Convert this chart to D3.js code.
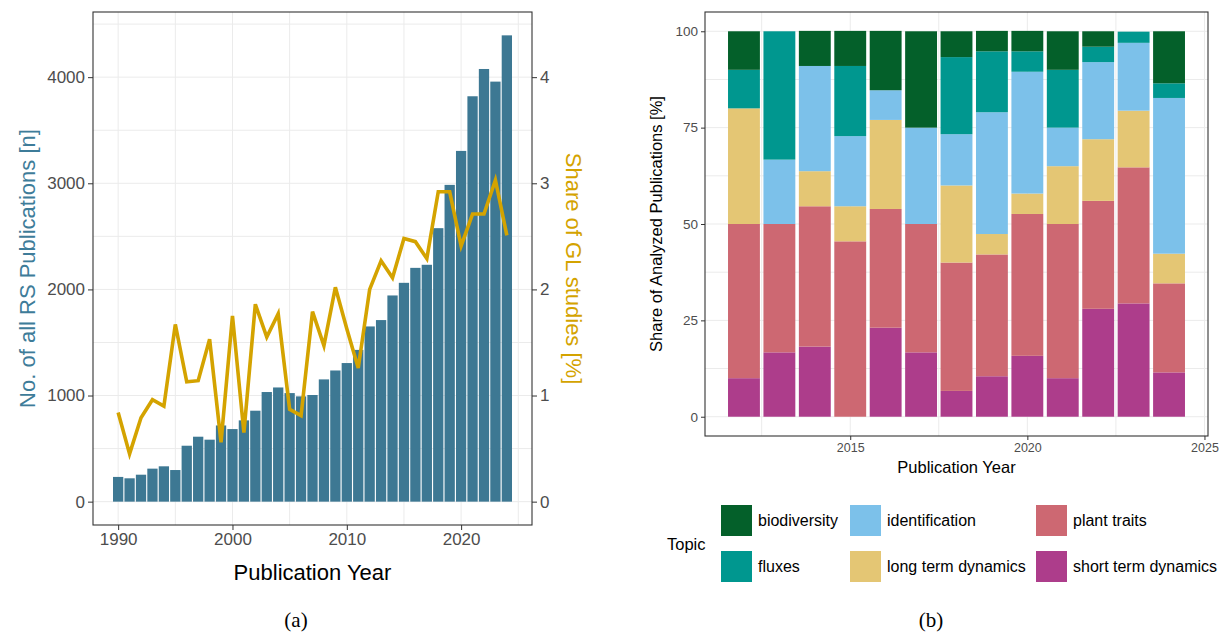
<!DOCTYPE html>
<html>
<head>
<meta charset="utf-8">
<script src="https://cdn.jsdelivr.net/npm/d3@7"></script>
<style>
  body { margin: 0; background: #fff; }
  svg text { font-family: "Liberation Sans", Arial, sans-serif; }
  .grid line { stroke: #ebebeb; stroke-width: 1; }
  .axis line { stroke: #333; }
  .axis path { display: none; }
  .axis text { fill: #4d4d4d; }
</style>
</head>
<body>
<svg id="chart" width="1221" height="632"></svg>
<script>
// panel (a): remote sensing publications and share of GL studies
let years_a = [1990, 1991, 1992, 1993, 1994, 1995, 1996, 1997, 1998, 1999,
  2000, 2001, 2002, 2003, 2004, 2005, 2006, 2007, 2008, 2009,
  2010, 2011, 2012, 2013, 2014, 2015, 2016, 2017, 2018, 2019,
  2020, 2021, 2022, 2023, 2024]
let rs_pubs = [233, 220, 254, 311, 333, 298, 527, 612, 584, 718,
  684, 766, 857, 1033, 1076, 1023, 992, 1005, 1152, 1236,
  1306, 1430, 1651, 1711, 1943, 2062, 2203, 2232, 2577, 2985,
  3305, 3820, 4077, 3958, 4394]
let gl_share = [0.84, 0.45, 0.79, 0.96, 0.90, 1.67, 1.13, 1.14, 1.53, 0.56,
  1.75, 0.65, 1.86, 1.55, 1.77, 0.87, 0.81, 1.79, 1.47, 2.02,
  1.63, 1.26, 2.00, 2.27, 2.11, 2.48, 2.45, 2.29, 2.92, 2.92,
  2.41, 2.71, 2.71, 3.03, 2.51]
let ticks_a_x = [1990, 2000, 2010, 2020],
  ticks_a_y = [0, 1000, 2000, 3000, 4000],
  ticks_a_y2 = [0, 1, 2, 3, 4];

// panel (b): topic shares per year [%]
let years_b = [2012, 2013, 2014, 2015, 2016, 2017, 2018, 2019, 2020, 2021, 2022, 2023, 2024]
let short_term = [10, 16.7, 18.2, 0, 23.1, 16.7, 6.7, 10.5, 15.8, 10, 28, 29.4, 11.5]
let plant_traits = [40, 33.3, 36.4, 45.5, 30.8, 33.3, 33.3, 31.6, 36.8, 40, 28, 35.3, 23.1]
let long_term = [30, 0, 9.1, 9.1, 23.1, 0, 20, 5.3, 5.3, 15, 16, 14.7, 7.7]
let identification = [0, 16.7, 27.3, 18.2, 7.7, 25, 13.3, 31.6, 31.6, 10, 20, 17.6, 40.4]
let fluxes = [10, 33.3, 0, 18.2, 0, 0, 20, 15.8, 5.3, 15, 4, 2.9, 3.8]
let biodiversity = [10, 0, 9.1, 9.1, 15.4, 25, 6.7, 5.3, 5.3, 10, 4, 0, 13.5]
let topics = ["biodiversity", "fluxes", "identification", "long term dynamics", "plant traits", "short term dynamics"]
let topic_colors = ["#04602a", "#00978f", "#7cc1ea", "#e4c674", "#cd6872", "#ad3d8b"]
let ticks_b_x = [2015, 2020, 2025],
  ticks_b_y = [0, 25, 50, 75, 100];

let svg = d3.select("#chart")
let bar_col = "#3d7893", line_col = "#d4a300";

function gridlines(g, sx, sy, xs, ys, box) {
  let grid = g.append("g").attr("class", "grid")
  grid.selectAll(".gx").data(xs).enter().append("line")
    .attr("x1", d => sx(d)).attr("x2", d => sx(d))
    .attr("y1", box.top).attr("y2", box.bottom)
  grid.selectAll(".gy").data(ys).enter().append("line")
    .attr("y1", d => sy(d)).attr("y2", d => sy(d))
    .attr("x1", box.left).attr("x2", box.right)
}

function panel_a() {
  let box = {left: 93, right: 532, top: 12, bottom: 525}
  let x = d3.scaleLinear().domain([1987.8, 2026.2]).range([box.left, box.right])
  let y = d3.scaleLinear().domain([-220, 4614]).range([box.bottom, box.top])
  let y2 = d3.scaleLinear().domain([-0.220, 4.614]).range([box.bottom, box.top])
  let g = svg.append("g")

  gridlines(g, x, y, [1990, 1995, 2000, 2005, 2010, 2015, 2020, 2025],
    [0, 500, 1000, 1500, 2000, 2500, 3000, 3500, 4000, 4500], box)

  g.append("g").selectAll("rect")
    .data(years_a).enter()
    .append("rect")
    .attr("x", d => x(d - 0.45))
    .attr("width", x(1.9) - x(1))
    .attr("y", (d, i) => y(rs_pubs[i]))
    .attr("height", (d, i) => y(0) - y(rs_pubs[i]))
    .attr("fill", bar_col)

  let line = d3.line().x(d => x(d[0])).y(d => y2(d[1]))
  g.append("path")
    .datum(years_a.map((yr, i) => [yr, gl_share[i]]))
    .attr("d", line)
    .attr("fill", "none")
    .attr("stroke", line_col)
    .attr("stroke-width", 3.6)

  g.append("rect")
    .attr("x", box.left).attr("y", box.top)
    .attr("width", box.right - box.left).attr("height", box.bottom - box.top)
    .attr("fill", "none").attr("stroke", "#333").attr("stroke-width", 1.1)

  g.append("g").attr("class", "axis")
    .attr("transform", `translate(0, ${box.bottom})`)
    .call(d3.axisBottom(x).tickValues(ticks_a_x).tickFormat(d3.format("d")).tickSize(5).tickPadding(3))
    .selectAll("text").attr("font-size", 17).attr("font-family", "Liberation Sans")
  g.append("g").attr("class", "axis")
    .attr("transform", `translate(${box.left}, 0)`)
    .call(d3.axisLeft(y).tickValues(ticks_a_y).tickFormat(d3.format("d")).tickSize(5).tickPadding(3))
    .selectAll("text").attr("font-size", 17).attr("font-family", "Liberation Sans")
  g.append("g").attr("class", "axis")
    .attr("transform", `translate(${box.right}, 0)`)
    .call(d3.axisRight(y2).tickValues(ticks_a_y2).tickFormat(d3.format("d")).tickSize(5).tickPadding(3))
    .selectAll("text").attr("font-size", 17).attr("font-family", "Liberation Sans")

  g.append("text").text("Publication Year")
    .attr("x", (box.left + box.right) / 2).attr("y", 580)
    .attr("text-anchor", "middle").attr("font-size", 22).attr("fill", "#000")
  g.append("text").text("No. of all RS Publications [n]")
    .attr("transform", `translate(35, ${(box.top + box.bottom) / 2})rotate(-90)`)
    .attr("text-anchor", "middle").attr("font-size", 22).attr("fill", "#3e7c99")
  g.append("text").text("Share of GL studies [%]")
    .attr("transform", `translate(566, ${(box.top + box.bottom) / 2})rotate(90)`)
    .attr("text-anchor", "middle").attr("font-size", 22).attr("fill", line_col)
  g.append("text").text("(a)")
    .attr("x", 296).attr("y", 627)
    .attr("text-anchor", "middle").attr("font-size", 21)
    .style("font-family", "'Liberation Serif', serif")
}

function panel_b() {
  let box = {left: 705, right: 1208, top: 12, bottom: 436}
  let x = d3.scaleLinear().domain([2010.9, 2025.1]).range([box.left, box.right])
  let y = d3.scaleLinear().domain([-5, 105]).range([box.bottom, box.top])
  let g = svg.append("g")

  gridlines(g, x, y, [2012.5, 2015, 2017.5, 2020, 2022.5, 2025],
    [0, 12.5, 25, 37.5, 50, 62.5, 75, 87.5, 100], box)

  let table = years_b.map((yr, i) => ({
    year: yr,
    "biodiversity": biodiversity[i],
    "fluxes": fluxes[i],
    "identification": identification[i],
    "long term dynamics": long_term[i],
    "plant traits": plant_traits[i],
    "short term dynamics": short_term[i]
  }))
  let fill = d3.scaleOrdinal().domain(topics).range(topic_colors)
  let stacked = d3.stack().keys(topics.slice().reverse())(table)

  g.append("g").selectAll("g")
    .data(stacked).enter()
    .append("g")
    .attr("fill", d => fill(d.key))
    .selectAll("rect")
    .data(d => d).enter()
    .append("rect")
    .attr("x", d => x(d.data.year - 0.45))
    .attr("width", x(1.9) - x(1))
    .attr("y", d => y(d[1]))
    .attr("height", d => y(d[0]) - y(d[1]))

  g.append("rect")
    .attr("x", box.left).attr("y", box.top)
    .attr("width", box.right - box.left).attr("height", box.bottom - box.top)
    .attr("fill", "none").attr("stroke", "#333").attr("stroke-width", 1.1)

  g.append("g").attr("class", "axis")
    .attr("transform", `translate(0, ${box.bottom})`)
    .call(d3.axisBottom(x).tickValues(ticks_b_x).tickFormat(d3.format("d")).tickSize(4).tickPadding(3))
    .selectAll("text").attr("font-size", 12.5).attr("font-family", "Liberation Sans")
  g.append("g").attr("class", "axis")
    .attr("transform", `translate(${box.left}, 0)`)
    .call(d3.axisLeft(y).tickValues(ticks_b_y).tickFormat(d3.format("d")).tickSize(4).tickPadding(3))
    .selectAll("text").attr("font-size", 13.5).attr("font-family", "Liberation Sans")

  g.append("text").text("Publication Year")
    .attr("x", (box.left + box.right) / 2).attr("y", 473)
    .attr("text-anchor", "middle").attr("font-size", 16.5).attr("fill", "#000")
  g.append("text").text("Share of Analyzed Publications [%]")
    .attr("transform", `translate(662, ${(box.top + box.bottom) / 2})rotate(-90)`)
    .attr("text-anchor", "middle").attr("font-size", 16.5).attr("fill", "#000")

  // legend, filled column by column
  let legend = g.append("g")
  legend.append("text").text("Topic")
    .attr("x", 667).attr("y", 550).attr("font-size", 16.5)
  let col_x = [721, 850, 1036], row_y = [505, 551]
  let items = legend.selectAll(".key")
    .data(topics).enter()
    .append("g")
    .attr("transform", (d, i) => `translate(${col_x[Math.floor(i / 2)]}, ${row_y[i % 2]})`)
  items.append("rect")
    .attr("width", 31).attr("height", 31)
    .attr("fill", d => fill(d))
  items.append("text").text(d => d)
    .attr("x", 37).attr("y", 15.5).attr("dy", "0.35em")
    .attr("font-size", 16).attr("fill", "#000")

  g.append("text").text("(b)")
    .attr("x", 931).attr("y", 627)
    .attr("text-anchor", "middle").attr("font-size", 21)
    .style("font-family", "'Liberation Serif', serif")
}

panel_a()
panel_b()
</script>
</body>
</html>
